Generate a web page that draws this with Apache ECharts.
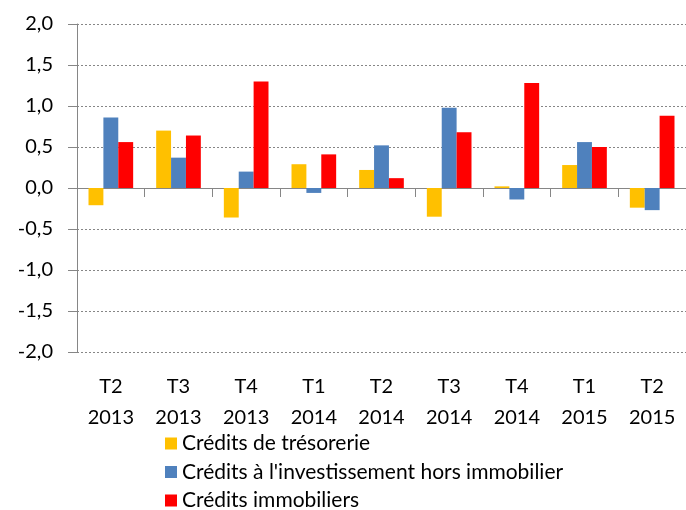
<!DOCTYPE html>
<html>
<head>
<meta charset="utf-8">
<script src="https://cdn.jsdelivr.net/npm/echarts@6/dist/echarts.min.js"></script>
<style>
  html, body { margin: 0; padding: 0; background: #fff; }
  #main { width: 686px; height: 510px; }
</style>
</head>
<body>
<div id="main"></div>
<script>
var categories = ["T2\n2013", "T3\n2013", "T4\n2013", "T1\n2014", "T2\n2014", "T3\n2014", "T4\n2014", "T1\n2015", "T2\n2015"];
var tresorerie = [-0.21, 0.70, -0.36, 0.29, 0.22, -0.35, 0.02, 0.28, -0.24];
var investissement = [0.86, 0.37, 0.20, -0.06, 0.52, 0.98, -0.14, 0.56, -0.27];
var immobiliers = [0.56, 0.64, 1.30, 0.41, 0.12, 0.68, 1.28, 0.50, 0.88];

var chart = echarts.init(document.getElementById("main"));
var font = "Lato, 'Open Sans', sans-serif";

function bar(name, data, color) {
  return {
    name: name,
    type: "bar",
    data: data,
    xAxisIndex: 0,
    barGap: "0%",
    barCategoryGap: "34%",
    itemStyle: { color: color },
    emphasis: { disabled: true }
  };
}

var option = {
  animation: false,
  textStyle: { fontFamily: font },
  grid: { left: 77, top: 24, right: -9, bottom: 158, containLabel: false },
  legend: {
    orient: "vertical",
    left: 165,
    top: 433,
    height: 120,
    padding: 0,
    itemWidth: 12,
    itemHeight: 12,
    itemGap: 7.5,
    icon: "rect",
    textStyle: { fontFamily: font, fontSize: 21, color: "#000", lineHeight: 21 },
    data: ["Crédits de trésorerie", "Crédits à l'investissement hors immobilier", "Crédits immobiliers"]
  },
  xAxis: [
    {
      type: "category",
      data: categories,
      axisLine: { onZero: true, lineStyle: { color: "#868686", width: 1 } },
      axisTick: { show: true, length: 9, lineStyle: { color: "#868686" } },
      axisLabel: { show: false },
      splitLine: { show: false }
    },
    {
      type: "category",
      data: categories,
      position: "bottom",
      axisLine: { show: false },
      axisTick: { show: false },
      axisLabel: { margin: 19, fontFamily: font, fontSize: 20, color: "#000", lineHeight: 31, interval: 0 },
      splitLine: { show: false }
    }
  ],
  yAxis: {
    type: "value",
    min: -2,
    max: 2,
    interval: 0.5,
    axisLine: { show: true, lineStyle: { color: "#868686", width: 1 } },
    axisTick: { show: true, length: 9, lineStyle: { color: "#868686" } },
    axisLabel: {
      margin: 24,
      fontFamily: font,
      fontSize: 20,
      color: "#000",
      formatter: function (v) { return v.toFixed(1).replace(".", ","); }
    },
    splitLine: { show: true, lineStyle: { color: "#868686", type: [2, 2], width: 1 } }
  },
  series: [
    bar("Crédits de trésorerie", tresorerie, "#FFC000"),
    bar("Crédits à l'investissement hors immobilier", investissement, "#4F81BD"),
    bar("Crédits immobiliers", immobiliers, "#FF0000")
  ]
};

chart.setOption(option);
window.onresize = chart.resize;
</script>
</body>
</html>
